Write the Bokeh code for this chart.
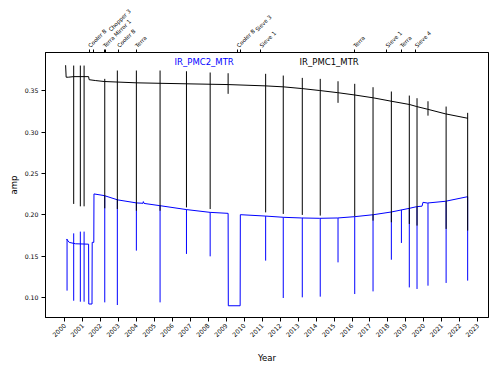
import math
from bokeh.plotting import figure
from bokeh.models import Range1d, LinearAxis, FixedTicker
from bokeh.embed import file_html
from bokeh.resources import INLINE
from bokeh.core.properties import value

FONT = "DejaVu Sans"

# ---------------- data ----------------
year_ticks = list(range(2000, 2024))
amp_ticks = [0.10, 0.15, 0.20, 0.25, 0.30, 0.35]

event_years = [2001.36, 2001.60, 2002.19, 2002.27, 2002.97, 2003.98,
               2009.63, 2009.77, 2010.91, 2016.13, 2017.93, 2018.73, 2019.55]
event_names = ["Cooler B", "Chopper 3", "Terra Mirror 1", "", "Cooler B", "Terra",
               "Cooler B", "Sieve 3", "Sieve 1", "Terra", "Sieve 1", "Terra", "Sieve 4"]
# labels pushed outward along their slant to clear the preceding label
event_pad = [0, 13, 0, 0, 0, 0, 0, 13, 0, 0, 0, 0, 0]

# IR_PMC1_MTR (black) baseline
pmc1_years = [2000.05, 2000.08, 2000.20, 2000.50, 2001.33, 2001.36, 2001.70, 2002.20,
              2004.00, 2006.80, 2009.10, 2011.20, 2012.20, 2013.20, 2014.20, 2015.20,
              2016.15, 2017.20, 2018.20, 2019.20, 2019.60, 2020.20, 2021.20, 2022.45]
pmc1_amp = [0.381, 0.3665, 0.3665, 0.3672, 0.3672, 0.3635, 0.3625, 0.3613,
            0.3597, 0.3585, 0.3576, 0.3560, 0.3548, 0.3528, 0.3504, 0.3478,
            0.3450, 0.3415, 0.3374, 0.3335, 0.3310, 0.3278, 0.3222, 0.3168]

# IR_PMC1_MTR spikes
pmc1_spike_years = [2000.50, 2000.87, 2001.08, 2002.23, 2002.93, 2003.99, 2005.31,
                    2006.78, 2008.10, 2009.10, 2011.19, 2012.17, 2013.23, 2014.23,
                    2015.22, 2016.15, 2017.17, 2018.19, 2019.19, 2019.62, 2020.23,
                    2021.24, 2022.44]
pmc1_spike_top = [0.3806, 0.3806, 0.3806, 0.3645, 0.3746, 0.3746, 0.3746,
                  0.3737, 0.3722, 0.3713, 0.3706, 0.3685, 0.3657, 0.3645,
                  0.3616, 0.3585, 0.3544, 0.3492, 0.3443, 0.3411, 0.3374,
                  0.3310, 0.3234]
pmc1_spike_bottom = [0.2132, 0.2103, 0.2103, 0.2079, 0.2071, 0.2050, 0.2050,
                     0.2090, 0.2070, 0.3464, 0.2030, 0.2011, 0.1999, 0.1991,
                     0.3355, 0.1982, 0.1930, 0.1910, 0.1890, 0.1870, 0.3200,
                     0.1830, 0.1810]

# IR_PMC2_MTR (blue) baseline
pmc2_years = [2000.10, 2000.25, 2000.60, 2001.33, 2001.34, 2001.52, 2001.53, 2001.62,
              2001.63, 2002.20, 2002.95, 2004.00, 2004.36, 2004.38, 2004.42, 2005.30,
              2006.80, 2008.10, 2009.10, 2009.11, 2009.77, 2009.78, 2011.20, 2012.20,
              2013.20, 2014.20, 2015.20, 2016.15, 2017.20, 2018.20, 2019.20, 2019.60,
              2019.90, 2019.95, 2020.20, 2021.20, 2022.45]
pmc2_amp = [0.1708, 0.1667, 0.1650, 0.1645, 0.0921, 0.0921, 0.1667, 0.1667,
            0.2253, 0.2233, 0.2181, 0.2144, 0.2140, 0.2160, 0.2138, 0.2111,
            0.2063, 0.2030, 0.2018, 0.0900, 0.0900, 0.2002, 0.1985, 0.1970,
            0.1962, 0.1958, 0.1962, 0.1978, 0.2002, 0.2035, 0.2079, 0.2099,
            0.2105, 0.2151, 0.2143, 0.2164, 0.2220]

# IR_PMC2_MTR spikes
pmc2_spike_years = [2000.13, 2000.50, 2000.87, 2001.08, 2002.23, 2002.93, 2003.99,
                    2005.31, 2006.78, 2008.10, 2011.19, 2012.17, 2013.23, 2014.23,
                    2015.22, 2016.15, 2017.17, 2018.19, 2018.75, 2019.19, 2019.62,
                    2020.23, 2021.24, 2022.44]
pmc2_spike_top = [0.1708, 0.1776, 0.1797, 0.1797, 0.2233, 0.2181, 0.2144,
                  0.2111, 0.2063, 0.2030, 0.1985, 0.1970, 0.1962, 0.1958,
                  0.1962, 0.1978, 0.2002, 0.2035, 0.2060, 0.2079, 0.2099,
                  0.2143, 0.2164, 0.2220]
pmc2_spike_bottom = [0.1083, 0.0961, 0.0949, 0.0949, 0.0941, 0.0909, 0.1567,
                     0.0941, 0.1527, 0.1498, 0.1446, 0.0994, 0.1002, 0.1010,
                     0.1425, 0.1042, 0.1074, 0.1457, 0.1660, 0.1122, 0.1103,
                     0.1143, 0.1176, 0.1204]

series_names = ["IR_PMC2_MTR", "IR_PMC1_MTR"]
series_colors = ["blue", "black"]
name_x = [2006.12, 2013.08]
name_y = [0.3915, 0.3915]

X_START, X_END = 1998.93, 2023.6
Y_START, Y_END = 0.0758, 0.3964

# ---------------- figure ----------------
W, H = 500, 375
p = figure(width=W, height=H, output_backend="svg", toolbar_location=None,
           x_range=Range1d(X_START, X_END), y_range=Range1d(Y_START, Y_END),
           min_border_left=45, min_border_right=12, min_border_top=52,
           min_border_bottom=58, x_axis_label="Year", y_axis_label="amp")
p.grid.visible = False
p.outline_line_color = "black"
p.outline_line_width = 1
p.background_fill_color = "white"
p.border_fill_color = "white"

# blue first, black on top
p.line(pmc2_years, pmc2_amp, line_color="blue", line_width=1)
p.segment(x0=pmc2_spike_years, y0=pmc2_spike_top, x1=pmc2_spike_years,
          y1=pmc2_spike_bottom, line_color="blue", line_width=1)
p.line(pmc1_years, pmc1_amp, line_color="black", line_width=1)
p.segment(x0=pmc1_spike_years, y0=pmc1_spike_top, x1=pmc1_spike_years,
          y1=pmc1_spike_bottom, line_color="black", line_width=1)

p.text(x=name_x, y=name_y, text=series_names, text_color=series_colors,
       text_font=value(FONT), text_font_size="8.5px", text_baseline="top",
       text_align="left")

# bottom axis
xa = p.xaxis[0]
xa.ticker = FixedTicker(ticks=year_ticks)
xa.major_label_orientation = math.pi / 4
xa.major_label_text_font = FONT
xa.major_label_text_font_size = "6.2px"
xa.major_label_text_color = "black"
xa.major_tick_out = 4
xa.major_tick_in = 0
xa.minor_tick_line_color = None
xa.major_label_standoff = 3
xa.axis_label_text_font = FONT
xa.axis_label_text_font_size = "8.5px"
xa.axis_label_text_font_style = "normal"
xa.axis_label_text_color = "black"
xa.axis_label_standoff = 11

# left axis
ya = p.yaxis[0]
ya.ticker = FixedTicker(ticks=amp_ticks)
ya.major_label_overrides = {t: f"{t:.2f}" for t in amp_ticks}
ya.major_label_text_font = FONT
ya.major_label_text_font_size = "6.2px"
ya.major_label_text_color = "black"
ya.major_tick_out = 4
ya.major_tick_in = 0
ya.minor_tick_line_color = None
ya.major_label_standoff = 3
ya.axis_label_text_font = FONT
ya.axis_label_text_font_size = "8.5px"
ya.axis_label_text_font_style = "normal"
ya.axis_label_text_color = "black"
ya.axis_label_standoff = 3

# top axis with events
top = LinearAxis(ticker=FixedTicker(ticks=event_years))
top.major_label_overrides = {y: "\u00a0" * pad + n
                             for y, n, pad in zip(event_years, event_names, event_pad)}
top.major_label_orientation = math.pi / 4
top.major_label_text_font = FONT
top.major_label_text_font_size = "5.5px"
top.major_label_text_color = "black"
top.major_tick_out = 3
top.major_tick_in = 0
top.minor_tick_line_color = None
top.major_label_standoff = 3
p.add_layout(top, "above")

open("out.html", "w").write(file_html(p, INLINE))
